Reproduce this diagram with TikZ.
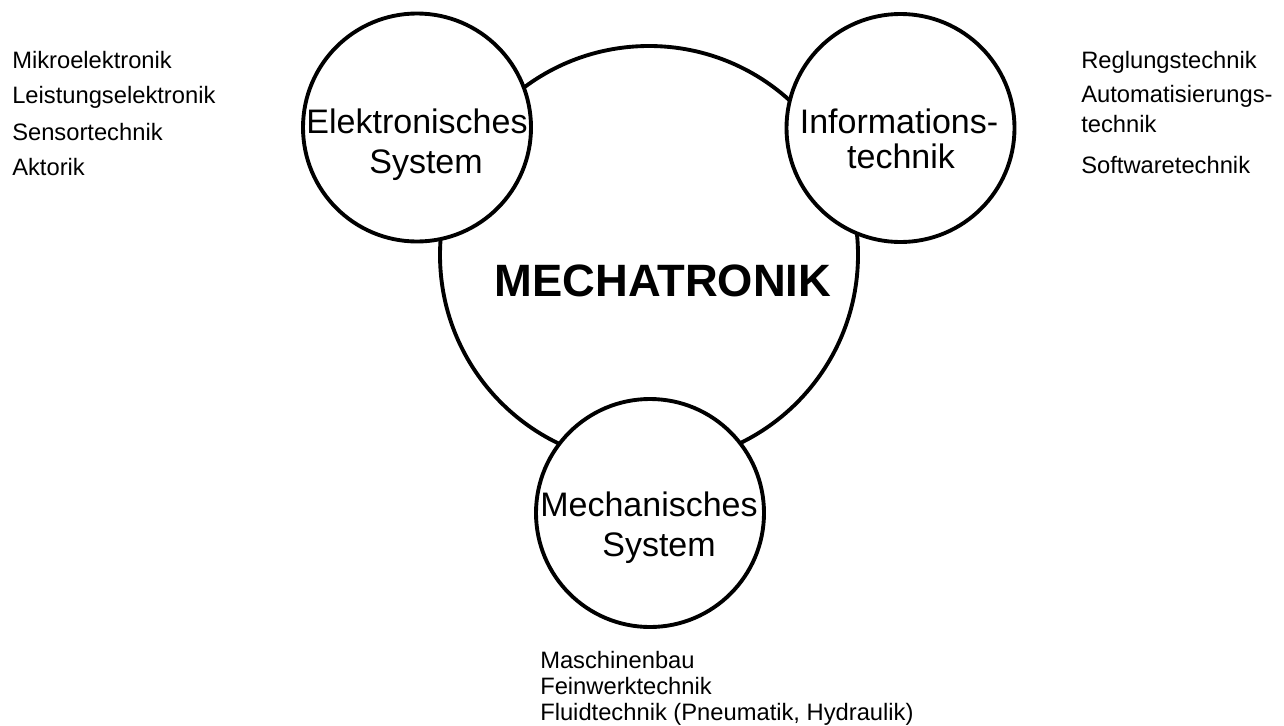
\documentclass[tikz,border=0pt]{standalone}
\usepackage{fontspec}
\setmainfont{Liberation Sans}
\begin{document}
\begin{tikzpicture}[x=0.75pt,y=-0.75pt,
  ring/.style={circle,draw=black,line width=2.9pt,fill=white,inner sep=0pt},
  circlabel/.style={anchor=base,inner sep=0pt,font=\fontsize{25.5}{30}\selectfont},
  listtext/.style={anchor=base west,inner sep=0pt,font=\fontsize{17.8}{21}\selectfont},
  title/.style={anchor=base,inner sep=0pt,font=\fontsize{34}{40}\selectfont\bfseries}]
\useasboundingbox (0,0) rectangle (1284,725);
% big circle
\node[ring,minimum size=418*0.75pt] (big) at (649,255) {};
% small circles
\node[ring,minimum size=228*0.75pt] (E) at (417,127.5) {};
\node[ring,minimum size=228*0.75pt] (I) at (900.5,128) {};
\node[ring,minimum size=228*0.75pt] (M) at (650,513) {};
% labels in circles
\node[circlabel] (E1) at (417,133) {Elektronisches};
\node[circlabel] (E2) at (426,173) {System};
\node[circlabel] (I1) at (899,133) {Informations-};
\node[circlabel] (I2) at (901,168) {technik};
\node[circlabel] (M1) at (649,516) {Mechanisches};
\node[circlabel] (M2) at (659,556) {System};
\node[title] (T) at (663,296) {MECHATRONIK};
% left list
\node[listtext] (L1) at (12,68) {Mikroelektronik};
\node[listtext] (L2) at (12,103) {Leistungselektronik};
\node[listtext] (L3) at (12,140) {Sensortechnik};
\node[listtext] (L4) at (12,175) {Aktorik};
% right list
\node[listtext] (R1) at (1081,68) {Reglungstechnik};
\node[listtext] (R2) at (1081,102) {Automatisierungs-};
\node[listtext] (R3) at (1081,132) {technik};
\node[listtext] (R4) at (1081,173) {Softwaretechnik};
% bottom list
\node[listtext] (B1) at (540,668) {Maschinenbau};
\node[listtext] (B2) at (540,694) {Feinwerktechnik};
\node[listtext] (B3) at (540,720) {Fluidtechnik (Pneumatik, Hydraulik)};
\end{tikzpicture}
\end{document}
